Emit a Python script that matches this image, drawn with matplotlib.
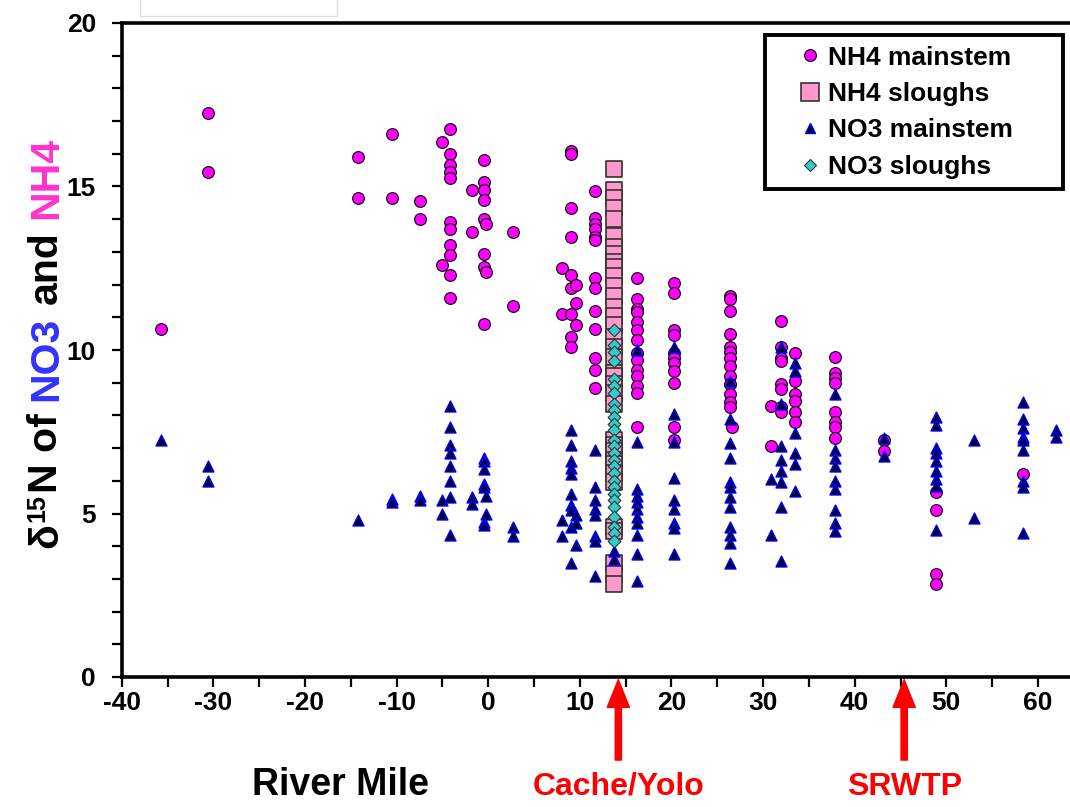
import matplotlib
matplotlib.use('Agg')
import matplotlib.pyplot as plt
from matplotlib.lines import Line2D
from matplotlib.patches import Rectangle
from matplotlib.ticker import MultipleLocator, FixedLocator
from matplotlib.transforms import IdentityTransform

plt.rcParams['font.family'] = ['Liberation Sans', 'DejaVu Sans']
plt.rcParams['font.weight'] = 'bold'

# ---------------- data ----------------
nh4_main_miles = [-35.7, -30.6, -14.2, -10.5, -7.5, -5.0, -4.2, -1.8, -0.5, -0.2, 2.7,
                  8.1, 9.0, 9.6, 11.65, 16.2, 20.3, 26.4, 26.6, 30.9, 32.0, 33.5,
                  37.8, 43.2, 48.9, 58.4]
nh4_main_d15n = [
    [10.65],
    [17.25, 15.45],
    [15.9, 14.65],
    [16.6, 14.65],
    [14.55, 14.0],
    [16.35, 12.6],
    [16.75, 16.0, 15.65, 15.45, 15.25, 13.9, 13.7, 13.2, 12.9, 12.3, 11.6],
    [14.9, 13.6],
    [15.8, 15.15, 14.9, 14.6, 14.0, 12.95, 12.55, 10.8],
    [13.85, 12.4],
    [13.6, 11.35],
    [12.5, 11.1],
    [16.1, 16.0, 14.35, 13.45, 12.3, 11.9, 11.1, 10.4, 10.1],
    [12.0, 11.45, 10.75],
    [14.85, 14.05, 13.85, 13.7, 13.45, 13.35, 12.2, 11.9, 11.2, 10.65, 9.75, 9.4, 8.85],
    [12.2, 11.55, 11.25, 11.15, 10.85, 10.6, 10.3, 9.9, 9.7, 9.4, 9.2, 8.9, 8.7, 7.65],
    [12.05, 11.75, 10.6, 10.45, 9.9, 9.75, 9.6, 9.35, 9.0, 7.65, 7.25],
    [11.65, 11.55, 11.2, 10.5, 10.1, 9.95, 9.75, 9.5, 9.2, 8.95, 8.65, 8.4, 8.25],
    [7.65],
    [8.3, 7.05],
    [10.9, 10.1, 9.75, 9.65, 8.95, 8.8, 8.25, 8.1],
    [9.9, 9.05, 8.65, 8.45, 8.1, 7.8],
    [9.8, 9.3, 9.15, 9.0, 8.1, 7.8, 7.65, 7.3],
    [7.25, 6.9],
    [5.65, 5.1, 3.15, 2.85],
    [6.2],
]

nh4_slough_miles = [13.7]
nh4_slough_d15n = [[15.55, 14.9, 14.65, 14.35, 14.0, 13.5, 13.15, 12.95, 12.7, 12.55,
                    12.25, 11.95, 11.65, 11.3, 11.05, 10.75, 10.4, 10.1, 9.8, 9.3,
                    9.2, 8.95, 8.7, 8.35, 7.25, 7.1, 6.9, 6.65, 6.5, 6.25, 5.95,
                    4.6, 4.45, 3.5, 3.15, 2.85]]

no3_main_miles = [-35.7, -30.6, -14.2, -10.5, -7.5, -5.0, -4.2, -1.8, -0.5, -0.2, 2.7,
                  8.1, 9.0, 9.6, 11.65, 13.7, 16.2, 20.3, 26.4, 30.9, 32.0, 33.5,
                  37.8, 43.2, 48.9, 53.0, 58.4, 62.0]
no3_main_d15n = [
    [7.25],
    [6.45, 6.0],
    [4.8],
    [5.45, 5.35],
    [5.55, 5.4],
    [5.4, 5.0],
    [8.3, 7.65, 7.1, 6.85, 6.45, 6.0, 5.5, 4.35],
    [5.5, 5.3],
    [6.7, 6.6, 6.35, 5.9, 5.8, 4.75, 4.65],
    [5.55, 5.0],
    [4.6, 4.3],
    [4.8, 4.3],
    [7.55, 7.1, 6.6, 6.4, 6.2, 5.6, 5.25, 5.1, 4.6, 3.5],
    [4.95, 4.7, 4.05],
    [6.95, 5.8, 5.4, 5.15, 4.95, 4.3, 4.15, 3.1],
    [3.85, 3.6],
    [10.0, 7.2, 5.75, 5.55, 5.35, 5.15, 4.9, 4.7, 4.35, 3.75, 2.95],
    [10.1, 8.05, 7.2, 6.1, 5.4, 5.15, 4.7, 4.55, 3.75],
    [9.05, 7.9, 7.15, 6.7, 5.95, 5.8, 5.5, 5.2, 4.6, 4.35, 4.1, 3.5],
    [6.05, 4.35],
    [10.1, 8.35, 7.05, 6.65, 6.3, 5.95, 5.2, 3.55],
    [9.6, 9.35, 7.45, 6.85, 6.5, 5.7],
    [8.65, 6.95, 6.7, 6.45, 6.0, 5.75, 5.1, 4.7, 4.45],
    [7.3, 6.75],
    [7.95, 7.7, 7.0, 6.85, 6.6, 6.3, 6.05, 5.85, 4.5],
    [7.25, 4.85],
    [8.4, 7.9, 7.6, 7.35, 7.25, 6.95, 6.0, 5.8, 4.4],
    [7.55, 7.35],
]

no3_slough_miles = [13.7]
no3_slough_d15n = [[10.6, 10.15, 9.95, 9.65, 9.1, 8.9, 8.7, 8.35, 8.15, 7.95, 7.75,
                    7.55, 7.25, 7.05, 6.85, 6.65, 6.45, 6.25, 6.0, 5.8, 5.6, 5.4,
                    5.2, 4.9, 4.6, 4.4, 4.15]]

series_labels = ['NH4 mainstem', 'NH4 sloughs', 'NO3 mainstem', 'NO3 sloughs']
x_ticks = [-40, -30, -20, -10, 0, 10, 20, 30, 40, 50, 60]
y_ticks = [0, 5, 10, 15, 20]
site_miles = [14.2, 45.4]
site_names = ['Cache/Yolo', 'SRWTP']


def flatten(miles, groups):
    xs, ys = [], []
    for m, g in zip(miles, groups):
        xs += [m] * len(g)
        ys += list(g)
    return xs, ys


# ---------------- figure ----------------
W, H = 1070, 807
fig = plt.figure(figsize=(W / 100, H / 100), dpi=100)
ax = fig.add_axes([121.8 / W, (H - 677) / H, 948.2 / W, 654 / H])

x, y = flatten(nh4_main_miles, nh4_main_d15n)
ax.scatter(x, y, s=72, marker='o', facecolor='#FF00FF', edgecolor='black',
           linewidth=0.8, zorder=3)
x, y = flatten(nh4_slough_miles, nh4_slough_d15n)
ax.scatter(x, y, s=135, marker='s', facecolor='#FF99CC', edgecolor='#333333',
           linewidth=1.2, zorder=4)
x, y = flatten(no3_main_miles, no3_main_d15n)
ax.scatter(x, y, s=62, marker='^', facecolor='#000033', edgecolor='#0000FF',
           linewidth=1.0, zorder=5)
x, y = flatten(no3_slough_miles, no3_slough_d15n)
ax.scatter(x, y, s=42, marker='D', facecolor='#33CCCC', edgecolor='#333333',
           linewidth=0.8, zorder=6)

ax.set_xlim(-40, 63.5)
ax.set_ylim(0, 20)
ax.xaxis.set_major_locator(FixedLocator(x_ticks))
ax.xaxis.set_minor_locator(MultipleLocator(5))
ax.yaxis.set_major_locator(FixedLocator(y_ticks))
ax.yaxis.set_minor_locator(MultipleLocator(1))
ax.set_xticklabels([str(v) for v in x_ticks])
ax.set_yticklabels([str(v) for v in y_ticks])

for side in ['left', 'bottom', 'top']:
    ax.spines[side].set_linewidth(2.6)
    ax.spines[side].set_color('black')
ax.spines['right'].set_visible(False)

ax.tick_params(axis='x', which='both', direction='out', length=7, width=1.6,
               top=False, labelsize=19, pad=3)
ax.tick_params(axis='y', which='both', direction='out', length=7.5, width=1.6,
               right=False, labelsize=19, pad=11)
for lab in ax.get_xticklabels() + ax.get_yticklabels():
    lab.set_fontweight('bold')

# legend
handles = [
    Line2D([], [], ls='none', marker='o', markersize=8.5, markerfacecolor='#FF00FF',
           markeredgecolor='black', markeredgewidth=0.8),
    Line2D([], [], ls='none', marker='s', markersize=12.5, markerfacecolor='#FF99CC',
           markeredgecolor='#333333', markeredgewidth=1.2),
    Line2D([], [], ls='none', marker='^', markersize=7.5, markerfacecolor='#000033',
           markeredgecolor='#0000FF', markeredgewidth=1.0),
    Line2D([], [], ls='none', marker='D', markersize=6, markerfacecolor='#33CCCC',
           markeredgecolor='#333333', markeredgewidth=0.8),
]
leg_x0 = (765 - 121.8) / 948.2
leg_w = (1063 - 765) / 948.2
leg_top = (677 - 35) / 654
leg = ax.legend(handles, series_labels, loc='upper left', mode='expand',
                bbox_to_anchor=(leg_x0, 0.3, leg_w, leg_top - 0.3), borderaxespad=0,
                prop={'weight': 'bold', 'size': 19}, frameon=True, fancybox=False,
                framealpha=1, edgecolor='black', handlelength=2.6,
                handletextpad=-0.61, borderpad=0.4, labelspacing=0.47)
leg.get_frame().set_linewidth(2.8)
leg.set_zorder(10)

# site arrows and labels
xt = ax.get_xaxis_transform()
for m, name in zip(site_miles, site_names):
    ax.annotate('', xy=(m, -0.004), xytext=(m, -0.127), xycoords=xt, textcoords=xt,
                arrowprops=dict(width=4.5, headwidth=16, headlength=20,
                                facecolor='#FF0000', edgecolor='#FF0000', shrink=0),
                annotation_clip=False)
    ax.text(m, -0.1803, name, transform=xt, ha='center', va='baseline', color='#FF0000',
            fontsize=23, fontweight='bold', clip_on=False)

fig.text(340 / W, (H - 795) / H, 'River Mile', ha='center', va='baseline',
         fontsize=27, fontweight='bold', color='black')

# faint box at top-left
fig.add_artist(Rectangle((140 / W, (H - 16) / H), 197 / W, 30 / H, fill=False,
                         edgecolor='#DDDDDD', linewidth=1.0, transform=fig.transFigure))

# multi-coloured y label
renderer = fig.canvas.get_renderer()


def text_w(s, size):
    t = fig.text(0, 0, s, fontsize=size, fontweight='bold')
    w = t.get_window_extent(renderer).width
    t.remove()
    return w


def adv(s, size):
    return text_w(s + 'l', size) - text_w('l', size)


main_fs = 29.5
sup_fs = 18
space = adv(' ', main_fs)
# (drawn text, size, colour, baseline shift, trailing spaces)
parts = [('δ', main_fs, 'black', 0, 0), ('15', sup_fs, 'black', -13, 0),
         ('N of', main_fs, 'black', 0, 1), ('NO3', main_fs, '#3333FF', 0, 1),
         ('and', main_fs, 'black', 0, 1), ('NH4', main_fs, '#FF33CC', 0, 0)]
lengths = [adv(p[0], p[1]) + 1.0 + p[4] * space for p in parts[:-1]] + \
          [text_w(parts[-1][0], main_fs)]
total = sum(lengths)
center_y = H - 342.5
y_pos = center_y - total / 2
baseline_x = 57
for (s, fs, c, dx, sa), L in zip(parts, lengths):
    fig.text(baseline_x + dx, y_pos, s, fontsize=fs, color=c, fontweight='bold',
             rotation=90, rotation_mode='anchor', ha='left', va='baseline',
             transform=IdentityTransform())
    y_pos += L

fig.savefig('out.png', dpi=100)
